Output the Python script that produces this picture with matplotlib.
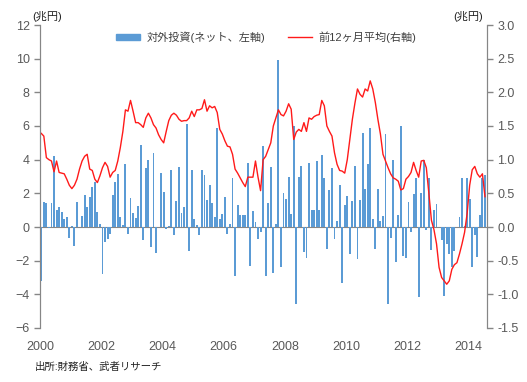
import numpy as np
import matplotlib
matplotlib.use("Agg")
import matplotlib.pyplot as plt
from matplotlib.patches import Patch
from matplotlib.lines import Line2D

plt.rcParams['font.family'] = ['Liberation Sans', 'Noto Sans CJK JP']

# monthly net outward investment (left axis, trillion yen), Jan 2000 - Jul 2014
net_2000 = [-3.2, 1.5, 1.45, -0.05, 1.4, 4.2, 1.0, 1.2, 0.9, 0.5, 0.6, -0.65]
net_2001 = [0.05, -1.1, 1.5, 0.0, 0.65, 1.9, 1.2, 1.8, 2.35, 2.7, 0.9, 0.2]
net_2002 = [-2.8, -0.9, -0.7, -0.4, 1.9, 2.65, 3.15, 0.6, 0.1, 3.75, -0.4, 1.7]
net_2003 = [0.85, 0.55, 1.25, 4.9, -0.8, 3.5, 4.0, -1.2, 4.4, -1.55, 0.0, 3.2]
net_2004 = [2.1, -0.1, 0.05, 3.4, -0.5, 1.55, 3.55, 0.85, 1.2, 6.1, -1.4, 3.4]
net_2005 = [0.45, 0.1, -0.45, 3.4, 3.1, 1.6, 2.5, 1.4, 0.6, 5.9, 0.5, 0.8]
net_2006 = [1.8, -0.4, 0.2, 2.9, -2.9, 1.3, 0.7, 0.7, 0.7, 3.8, -2.3, 0.95]
net_2007 = [0.3, -0.7, -0.3, 4.8, -2.9, 1.45, 3.55, -2.75, 0.2, 9.95, -2.35, 2.0]
net_2008 = [1.65, 3.0, 0.8, 6.0, -4.6, 3.0, 3.6, -1.5, -1.85, 3.8, 1.0, 1.0]
net_2009 = [3.9, 1.0, 4.3, 2.9, -1.3, 2.2, 3.5, -0.7, 0.35, 2.5, -3.3, 1.3]
net_2010 = [1.85, -1.6, 1.55, 3.6, -1.9, 1.6, 5.6, 2.25, 3.75, 5.9, 0.45, -1.3]
net_2011 = [2.25, 0.35, 0.65, 5.55, -4.6, -0.65, 4.0, -2.1, 0.7, 6.0, -1.75, -1.85]
net_2012 = [1.5, -0.3, 1.95, 2.9, -4.15, 2.0, 4.0, -0.2, 2.9, -1.35, 1.0, 1.35]
net_2013 = [0.0, -0.8, -4.1, -1.0, -1.6, -2.4, -1.4, 0.0, 0.6, 2.9, 0.05, 2.9]
net_2014 = [1.65, -2.4, -0.5, -1.8, 0.7, 2.9, 3.1]

# trailing 12-month average (right axis)
avg_2000 = [1.39, 1.35, 1.03, 1.0, 0.98, 0.82, 0.98, 0.81, 0.8, 0.79, 0.71, 0.62]
avg_2001 = [0.57, 0.62, 0.71, 0.86, 0.98, 1.05, 1.08, 0.86, 0.84, 0.71, 0.66, 0.76]
avg_2002 = [0.88, 0.96, 0.9, 0.74, 0.81, 0.84, 0.98, 1.18, 1.42, 1.74, 1.72, 1.88]
avg_2003 = [1.72, 1.55, 1.55, 1.52, 1.48, 1.62, 1.69, 1.62, 1.52, 1.47, 1.37, 1.3]
avg_2004 = [1.25, 1.42, 1.58, 1.66, 1.69, 1.66, 1.6, 1.57, 1.58, 1.58, 1.62, 1.72]
avg_2005 = [1.64, 1.74, 1.74, 1.76, 1.89, 1.72, 1.8, 1.77, 1.79, 1.7, 1.45, 1.38]
avg_2006 = [1.28, 1.2, 1.19, 1.08, 0.86, 0.8, 0.73, 0.66, 0.6, 0.74, 0.74, 0.74]
avg_2007 = [0.98, 0.74, 0.54, 1.0, 1.05, 1.15, 1.25, 1.5, 1.62, 1.74, 1.67, 1.65]
avg_2008 = [1.72, 1.83, 1.75, 1.3, 1.41, 1.45, 1.42, 1.55, 1.42, 1.62, 1.6, 1.64]
avg_2009 = [1.66, 1.67, 1.88, 1.8, 1.5, 1.42, 1.35, 1.1, 0.93, 0.84, 0.83, 0.8]
avg_2010 = [1.0, 1.3, 1.6, 1.84, 2.05, 1.97, 1.93, 2.05, 2.02, 2.17, 2.05, 1.85]
avg_2011 = [1.6, 1.38, 1.08, 0.98, 0.88, 0.79, 0.73, 0.71, 0.68, 0.55, 0.57, 0.71]
avg_2012 = [0.75, 0.81, 0.96, 0.84, 0.74, 0.98, 0.99, 0.88, 0.5, 0.1, -0.04, -0.25]
avg_2013 = [-0.6, -0.75, -0.8, -0.85, -0.8, -0.63, -0.56, -0.53, -0.4, -0.25, -0.08, 0.2]
avg_2014 = [0.62, 0.85, 0.9, 0.79, 0.74, 0.79, 0.45]

year_ticks = [2000, 2002, 2004, 2006, 2008, 2010, 2012, 2014]

net = np.array(net_2000 + net_2001 + net_2002 + net_2003 + net_2004 + net_2005
               + net_2006 + net_2007 + net_2008 + net_2009 + net_2010 + net_2011
               + net_2012 + net_2013 + net_2014)
avg = np.array(avg_2000 + avg_2001 + avg_2002 + avg_2003 + avg_2004 + avg_2005
               + avg_2006 + avg_2007 + avg_2008 + avg_2009 + avg_2010 + avg_2011
               + avg_2012 + avg_2013 + avg_2014)
t = 2000 + (np.arange(len(net)) + 0.5) / 12

grey = '#868686'
txt = '#595959'

fig = plt.figure(figsize=(5.27, 3.82), dpi=100)
ax = fig.add_axes([40 / 527, 1 - 328 / 382, 447 / 527, 303 / 382])
ax2 = ax.twinx()

ax.bar(t, net, width=0.063, color='#5B9BD5', zorder=2)
ax.axhline(0, color=grey, lw=0.8, zorder=1)
ax2.plot(t, avg, color='#FF1A1A', lw=1.0)

ax.set_xlim(2000, 2000 + 447 / 30.6)
ax.set_ylim(-6, 12)
ax.set_yticks(range(-6, 13, 2))
ax2.set_ylim(-1.5, 3.0)
ax2.set_yticks(np.arange(-1.5, 3.01, 0.5))
ax2.set_yticklabels([f'{v:.1f}' for v in np.arange(-1.5, 3.01, 0.5)])
ax.set_xticks(year_ticks)

for a in (ax, ax2):
    for s in ('top', 'bottom'):
        a.spines[s].set_visible(False)
    a.spines['left'].set_color(grey)
    a.spines['right'].set_color(grey)
    a.tick_params(axis='y', colors=grey, labelcolor=txt, labelsize=9, length=4, width=1)
ax.tick_params(axis='x', length=0, pad=9, labelsize=9, labelcolor=txt)

fig.text(32 / 527, 1 - 16 / 382, '(兆円)', fontsize=8, color='#222222', va='center')
fig.text(453 / 527, 1 - 16 / 382, '(兆円)', fontsize=8, color='#222222', va='center')

handles = [Patch(color='#5B9BD5'), Line2D([], [], color='#FF1A1A', lw=1.0)]
labels = ['対外投資(ネット、左軸)', '前12ヶ月平均(右軸)']
fig.legend(handles, labels, loc='center', bbox_to_anchor=(0.505, 1 - 37 / 382),
           ncol=2, frameon=False, fontsize=8, handlelength=2.2, handleheight=0.45,
           columnspacing=2.0, handletextpad=0.6, labelcolor='#404040')

fig.text(35 / 527, 1 - 367 / 382, '出所:財務省、武者リサーチ', fontsize=7.5,
         color='#222222', va='center')

fig.savefig('out.png', dpi=100)
